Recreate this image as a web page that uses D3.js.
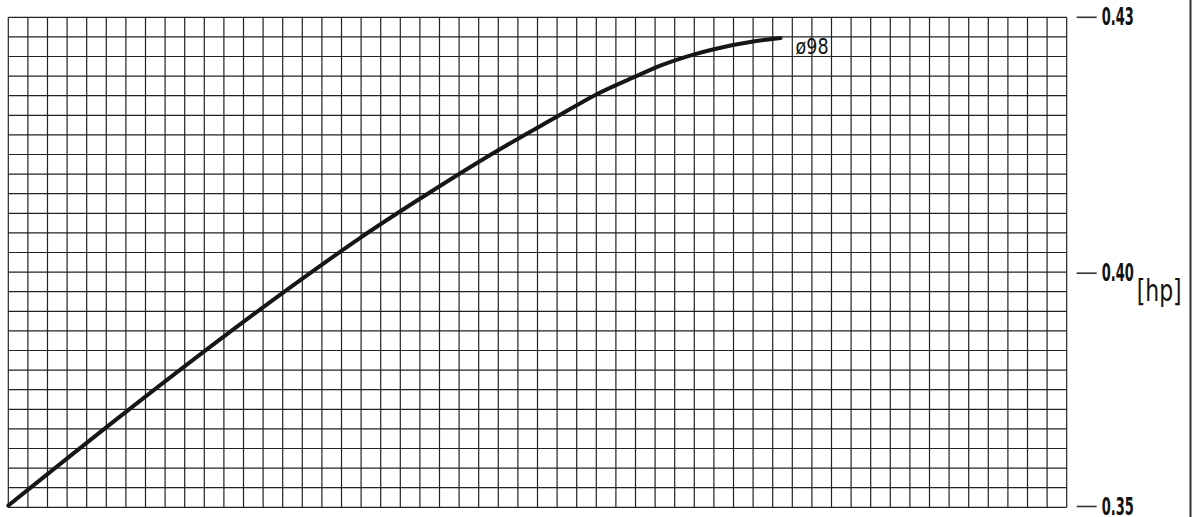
<!DOCTYPE html>
<html>
<head>
<meta charset="utf-8">
<script src="https://cdn.jsdelivr.net/npm/d3@7"></script>
<style>
  html, body { margin: 0; padding: 0; background: #fff; }
  svg { display: block; }
</style>
</head>
<body>
<div id="chart"></div>
<script>
const width = 1199;
const height = 517;

// curve (x in grid cells, y in hp)
const speedCells = [0, 6.1, 11.5, 14.9, 17.9, 21.5, 25.1, 28.0, 30.0, 32.1, 33.3, 35.0, 36.0, 38.0, 39.4];
const powerHp = [0.3501, 0.3705, 0.3879, 0.3984, 0.4040, 0.4094, 0.4145, 0.4183, 0.4209, 0.4231, 0.4243, 0.4256, 0.4262, 0.4271, 0.4275];
const hpTicks = [0.35, 0.40, 0.43];
const curveLabel = "ø98";
const unitLabel = "[hp]";
const gridCols = 54;
const gridRows = 25;

const gridLeft = 8.3, gridRight = 1066.7, gridTop = 17.3, gridBottom = 507.3;
const lineColor = "#222";
const labelFont = "'DejaVu Sans Condensed', 'Liberation Sans Narrow', sans-serif";

const svg = d3.select("#chart")
    .append("svg")
    .attr("width", width)
    .attr("height", height);

const x = d3.scaleLinear().domain([0, gridCols]).range([gridLeft, gridRight]);
const row = d3.scaleLinear().domain([0, gridRows]).range([gridBottom, gridTop]);
// the printed scale is not linear, so piecewise between its ticks
const y = d3.scaleLinear().domain(hpTicks).range([506, 272.7, 16.8]);

//Render grid
svg.append("g")
    .selectAll("line")
    .data(d3.range(0, gridCols + 1))
    .enter()
    .append("line")
    .attr("x1", d => x(d))
    .attr("x2", d => x(d))
    .attr("y1", gridTop)
    .attr("y2", gridBottom)
    .style("stroke", lineColor)
    .style("stroke-width", 1.2);

svg.append("g")
    .selectAll("line")
    .data(d3.range(0, gridRows + 1))
    .enter()
    .append("line")
    .attr("x1", gridLeft)
    .attr("x2", gridRight)
    .attr("y1", d => row(d))
    .attr("y2", d => row(d))
    .style("stroke", lineColor)
    .style("stroke-width", 1.2);

//Render curve
const line = d3.line()
    .x((d, i) => x(speedCells[i]))
    .y(d => y(d))
    .curve(d3.curveMonotoneX);

svg.append("path")
    .datum(powerHp)
    .attr("d", line)
    .style("fill", "none")
    .style("stroke", "#161616")
    .style("stroke-width", 4)
    .style("stroke-linecap", "round");

const last = speedCells.length - 1;
svg.append("text")
    .attr("x", x(speedCells[last]) + 15)
    .attr("y", y(powerHp[last]) + 16)
    .attr("textLength", 33)
    .attr("lengthAdjust", "spacingAndGlyphs")
    .style("font-family", labelFont)
    .style("font-size", "21px")
    .style("fill", "#111")
    .text(curveLabel);

//Render right axis
const axis = d3.axisRight(y)
    .tickValues(hpTicks)
    .tickSize(20)
    .tickPadding(5)
    .tickFormat(d3.format(".2f"));

const gAxis = svg.append("g")
    .attr("transform", "translate(1076.7,0)")
    .call(axis);

gAxis.select(".domain").remove();
gAxis.selectAll(".tick line")
    .style("stroke", "#333")
    .style("stroke-width", 1.6);
gAxis.selectAll(".tick text")
    .attr("textLength", 32)
    .attr("lengthAdjust", "spacingAndGlyphs")
    .style("font-family", labelFont)
    .style("font-weight", "bold")
    .style("font-size", "25px")
    .style("fill", "#111");

svg.append("text")
    .attr("x", 1136.7)
    .attr("y", 301)
    .attr("textLength", 45)
    .attr("lengthAdjust", "spacingAndGlyphs")
    .style("font-family", labelFont)
    .style("font-size", "31px")
    .style("fill", "#111")
    .text(unitLabel);

svg.append("line")
    .attr("x1", 1190.5)
    .attr("x2", 1190.5)
    .attr("y1", 0)
    .attr("y2", height)
    .style("stroke", "#333")
    .style("stroke-width", 2);
</script>
</body>
</html>
